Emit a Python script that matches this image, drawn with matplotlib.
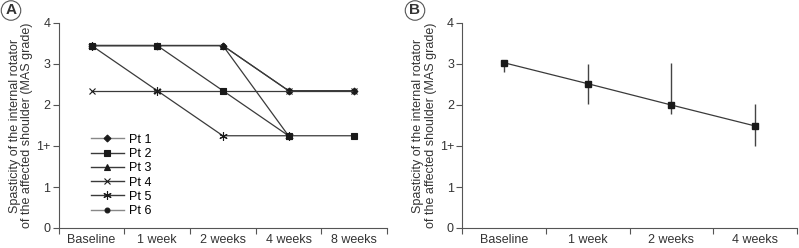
import numpy as np
import matplotlib
matplotlib.use("Agg")
import matplotlib.pyplot as plt

plt.rcParams['font.family'] = ['Liberation Sans', 'DejaVu Sans']

# ---- data (y in axis-position units: 0="0",1="1",2="1+",3="2",4="3",5="4") ----
ytick_labels = ["0", "1", "1+", "2", "3", "4"]
times_a = ["Baseline", "1 week", "2 weeks", "4 weeks", "8 weeks"]
patients = ["Pt 1", "Pt 2", "Pt 3", "Pt 4", "Pt 5", "Pt 6"]
pt1 = [4.45, 4.45, 4.45, 3.35, 3.35]
pt2 = [4.45, 4.45, 3.35, 2.25, 2.25]
pt3 = [4.45, 4.45, 4.45, 2.25, np.nan]
pt4 = [3.35, 3.35, 3.35, 3.35, 3.35]
pt5 = [4.45, 3.35, 2.25, 2.25, np.nan]
pt6 = [4.45, 4.45, 4.45, 3.35, np.nan]
pt_markers = ["D", "s", "^", "x", (6, 2, 0), "o"]
pt_sizes = [3.5, 4, 4, 5, 6, 3.5]
pt_z = [2, 6, 3, 5, 4, 1]
legend_line_cols = ["#888888", "#3a3a3a", "#3a3a3a", "#3a3a3a", "#3a3a3a", "#888888"]

times_b = ["Baseline", "1 week", "2 weeks", "4 weeks"]
mean_b = [4.03, 3.52, 3.00, 2.49]
low_b = [3.81, 3.02, 2.78, 2.01]
high_b = [4.03, 4.00, 4.03, 3.02]

W, H = 799, 248
fig = plt.figure(figsize=(W / 100, H / 100), dpi=100)

def make_ax(left, right, top=23, bottom=228):
    return fig.add_axes([left / W, 1 - bottom / H, (right - left) / W, (bottom - top) / H])

axA = make_ax(58.7, 387)
axB = make_ax(462.3, 796.7)

line_col = "#3a3a3a"
spine_col = "#555555"
ylabel = "Spasticity of the internal rotator\nof the affected shoulder (MAS grade)"

for ax, cats in ((axA, times_a), (axB, times_b)):
    n = len(cats)
    ax.set_xlim(-0.5, n - 0.5)
    ax.set_ylim(0, 5)
    ax.set_yticks(range(6))
    ax.set_yticklabels(ytick_labels, fontsize=9, color="#333333")
    ax.set_xticks(np.arange(n + 1) - 0.5)
    ax.set_xticklabels([])
    ax.set_xticks(np.arange(n), minor=True)
    ax.set_xticklabels(cats, minor=True, fontsize=9, color="#333333")
    ax.tick_params(axis="x", which="minor", length=0, pad=4)
    ax.tick_params(axis="x", which="major", length=4, color=spine_col, width=0.8)
    ax.tick_params(axis="y", length=4, color=spine_col, width=0.8, pad=2)
    for s in ("top", "right"):
        ax.spines[s].set_visible(False)
    for s in ("left", "bottom"):
        ax.spines[s].set_color(spine_col)
        ax.spines[s].set_linewidth(0.8)
    ax.set_ylabel(ylabel, fontsize=9, color="#333333", linespacing=1.05, labelpad=2)

x_a = np.arange(len(times_a))
handles = []
for name, vals, mk, ms, z, lc in zip(patients, [pt1, pt2, pt3, pt4, pt5, pt6], pt_markers,
                                     pt_sizes, pt_z, legend_line_cols):
    axA.plot(x_a, vals, color=line_col, lw=0.9, marker=mk, markersize=ms,
             markeredgewidth=0.8, markerfacecolor="#1a1a1a", markeredgecolor="#1a1a1a",
             zorder=z)
    h, = axA.plot([], [], color=lc, lw=1.0, marker=mk, markersize=ms,
                  markeredgewidth=0.8, markerfacecolor="#1a1a1a", markeredgecolor="#1a1a1a",
                  label=name)
    handles.append(h)
axA.legend(handles=handles, loc="upper left", bbox_to_anchor=(0.08, 0.49), frameon=False,
           fontsize=9, handlelength=2.6, handletextpad=0.4, labelspacing=0.18, borderpad=0)

x_b = np.arange(len(times_b))
mean_arr = np.array(mean_b)
yerr = np.vstack([mean_arr - np.array(low_b), np.array(high_b) - mean_arr])
axB.errorbar(x_b, mean_b, yerr=yerr, color=line_col, lw=0.9, elinewidth=1.0, capsize=0,
             marker="s", markersize=4.2, markerfacecolor="#1a1a1a", markeredgecolor="#1a1a1a",
             ecolor="#444444")

for label, px in (("A", 11), ("B", 415)):
    fig.text(px / W, 1 - 10.5 / H, label, fontsize=11, fontweight="bold", ha="center",
             va="center", color="#333333",
             bbox=dict(boxstyle="circle,pad=0.18", fc="white", ec="#555555", lw=0.8))

fig.savefig("out.png", dpi=100)
